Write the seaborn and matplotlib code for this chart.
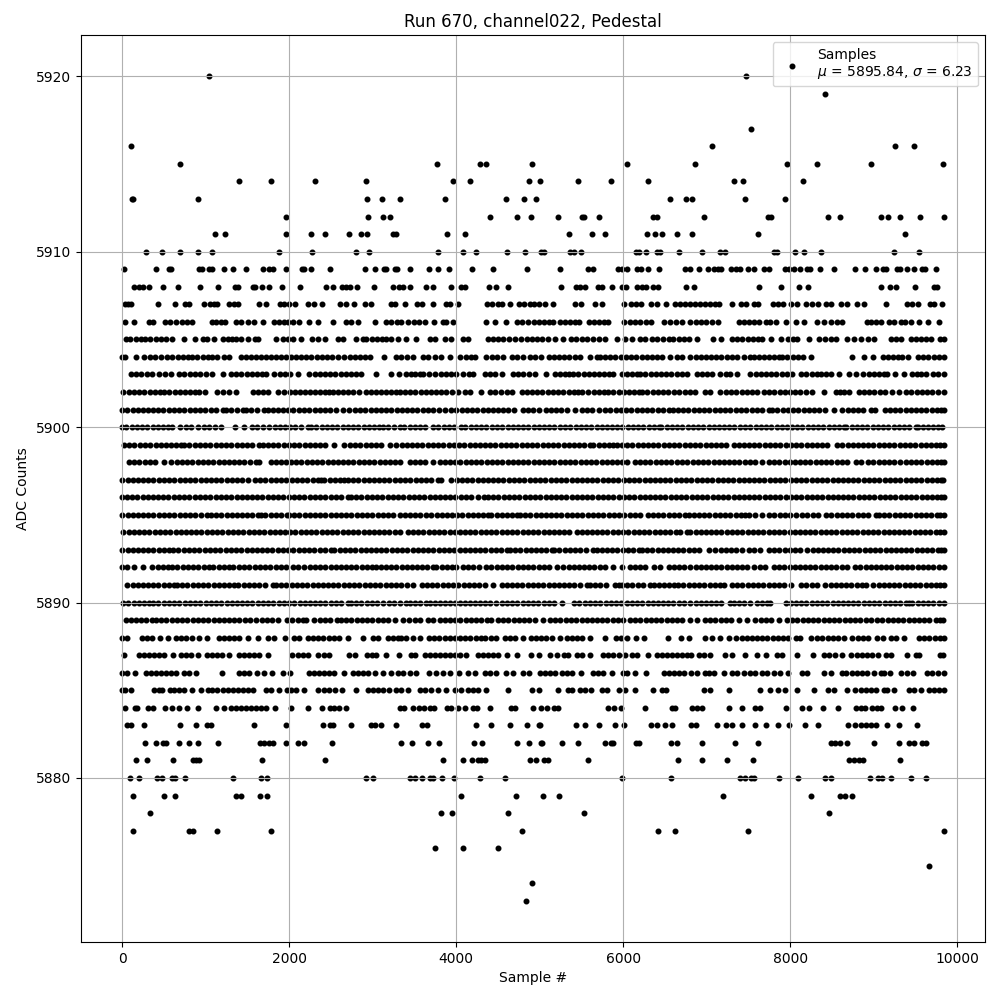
import pandas as pd
import matplotlib
matplotlib.use("Agg")
import matplotlib.pyplot as plt
import seaborn as sns

# sample numbers, one list per ADC level
s5920 = [1042, 7474]
s5919 = [8410]
s5917 = [7534]
s5916 = [106, 7066, 9250, 9478]
s5915 = [694, 3766, 4282, 4354, 4906, 6046, 6862, 7954, 8314, 8962, 9826]
s5914 = [1402, 1786, 2314, 2914, 3958, 4162, 4870, 5002, 5458, 5854, 6298, 7330, 7438, 8146]
s5913 = [124, 136, 910, 2926, 3106, 3322, 3862, 4594, 4810, 4954, 6562, 6754, 6826, 7462, 7930]
s5912 = [1966, 2938, 3118, 3202, 4402, 4726, 4894, 5218, 5506, 5534, 5710, 6358, 6402, 6970, 7738, 7766, 8446, 8590, 9082, 9166, 9310, 9550, 9838]
s5911 = [1114, 1234, 1966, 2266, 2434, 2722, 2854, 2926, 3238, 3278, 3886, 4102, 5350, 5626, 5782, 6286, 6382, 6466, 6646, 6826, 7618, 9370]
s5910 = [286, 478, 694, 910, 1078, 1882, 2278, 2806, 2950, 3778, 4078, 4234, 4606, 4822, 5014, 5054, 5362, 5414, 5494, 6154, 6190, 6274, 6402, 6438, 6666, 6942, 7162, 7222, 7802, 7842, 8050, 8158, 8362, 9238, 9538]
s5909 = [22, 406, 562, 582, 922, 962, 1042, 1074, 1222, 1330, 1478, 1690, 1754, 1810, 1966, 2158, 2182, 2266, 2494, 2902, 3022, 3130, 3162, 3262, 3294, 3442, 3670, 3778, 3918, 4186, 4438, 4850, 5242, 5574, 5638, 5942, 5982, 6042, 6166, 6214, 6298, 6430, 6738, 6794, 6902, 7018, 7090, 7130, 7174, 7294, 7350, 7402, 7498, 7570, 7690, 7742, 7930, 7982, 8042, 8114, 8202, 8234, 8350, 8518, 8770, 8890, 9022, 9110, 9150, 9278, 9318, 9394, 9478, 9574, 9614, 9742]
s5908 = [142, 202, 254, 322, 490, 670, 934, 1150, 1350, 1382, 1562, 1594, 1674, 1762, 1918, 2134, 2446, 2530, 2630, 2682, 2730, 2818, 3010, 3238, 3310, 3362, 3442, 3634, 3718, 3934, 4054, 4102, 4398, 4474, 4618, 5254, 5434, 5482, 5542, 5694, 5742, 5866, 5986, 6038, 6166, 6222, 6270, 6358, 6414, 6754, 6842, 7630, 7882, 8098, 8206, 9082, 9190, 9262, 9490, 9722, 9750]
s5907 = [30, 70, 102, 430, 638, 750, 806, 982, 1054, 1102, 1142, 1282, 1342, 1382, 1642, 1726, 1894, 1942, 2002, 2074, 2230, 2302, 2398, 2614, 2682, 2774, 2902, 2974, 3214, 3262, 3382, 3526, 3590, 3718, 3874, 3930, 4018, 4374, 4430, 4502, 4542, 4642, 4750, 4814, 4882, 4934, 4990, 5062, 5158, 5422, 5490, 5662, 5746, 6014, 6094, 6150, 6214, 6334, 6402, 6514, 6622, 6682, 6742, 6802, 6862, 6922, 6982, 7042, 7102, 7150, 7302, 7406, 7474, 7562, 7614, 7798, 7854, 7910, 8002, 8074, 8182, 8262, 8326, 8422, 8482, 8610, 8682, 8802, 8886, 9142, 9402, 9462, 9522, 9670, 9722, 9814]
s5906 = [34, 142, 322, 374, 514, 574, 642, 722, 782, 842, 1082, 1130, 1190, 1234, 1362, 1422, 1502, 1582, 1682, 1822, 1880, 1940, 1990, 2042, 2118, 2242, 2342, 2530, 2682, 2742, 2830, 3022, 3162, 3225, 3285, 3342, 3422, 3490, 3555, 3622, 3734, 3842, 3882, 3966, 4362, 4462, 4590, 4722, 4782, 4862, 4925, 4985, 5050, 5105, 5162, 5242, 5300, 5365, 5422, 5470, 5590, 5650, 5710, 5770, 5822, 6014, 6075, 6142, 6202, 6268, 6334, 6482, 6562, 6630, 6702, 6802, 6868, 6930, 6995, 7062, 7138, 7382, 7445, 7505, 7565, 7622, 7714, 7762, 7822, 7950, 8062, 8162, 8322, 8400, 8482, 8562, 8622, 8914, 8970, 9030, 9082, 9182, 9242, 9322, 9374, 9442, 9542, 9642, 9778]
s5905 = [42, 100, 162, 222, 280, 340, 402, 460, 525, 602, 742, 874, 970, 1022, 1102, 1202, 1262, 1310, 1362, 1422, 1510, 1590, 1630, 1842, 1922, 1985, 2042, 2142, 2270, 2342, 2430, 2590, 2642, 2806, 2882, 2922, 2990, 3050, 3110, 3165, 3222, 3302, 3402, 3514, 3682, 3742, 3862, 3942, 4082, 4142, 4382, 4440, 4505, 4565, 4630, 4702, 4770, 4842, 4905, 4965, 5022, 5102, 5182, 5278, 5374, 5435, 5500, 5562, 5642, 5710, 5782, 5922, 6022, 6102, 6202, 6262, 6342, 6402, 6478, 6542, 6600, 6662, 6722, 6782, 6882, 7074, 7166, 7302, 7365, 7425, 7490, 7550, 7610, 7662, 7774, 7882, 7974, 8030, 8082, 8218, 8342, 8410, 8482, 8550, 8682, 8762, 8842, 8925, 9002, 9202, 9262, 9322, 9442, 9505, 9565, 9622, 9682, 9790, 9835]
s5904 = [0, 30, 162, 262, 330, 395, 462, 542, 602, 665, 725, 785, 842, 902, 965, 1025, 1082, 1142, 1215, 1282, 1422, 1482, 1545, 1605, 1665, 1725, 1785, 1840, 1905, 1962, 2022, 2085, 2145, 2205, 2265, 2330, 2390, 2450, 2515, 2582, 2662, 2725, 2785, 2850, 2905, 2962, 3138, 3282, 3340, 3410, 3482, 3602, 3662, 3742, 3822, 3922, 4042, 4122, 4175, 4222, 4362, 4425, 4490, 4562, 4662, 4725, 4802, 4882, 4945, 5010, 5110, 5170, 5235, 5295, 5355, 5420, 5480, 5600, 5682, 5722, 5785, 5845, 5905, 5970, 6030, 6095, 6155, 6220, 6285, 6345, 6405, 6462, 6562, 6642, 6706, 6802, 6865, 6925, 6985, 7050, 7115, 7175, 7240, 7300, 7365, 7442, 7514, 7562, 7625, 7690, 7745, 7805, 7862, 7902, 7965, 8030, 8090, 8150, 8242, 8742, 8886, 8994, 9110, 9170, 9230, 9290, 9342, 9414, 9522, 9585, 9650, 9722, 9775, 9835]
s5903 = [102, 165, 230, 295, 362, 442, 510, 582, 682, 745, 810, 870, 935, 1002, 1082, 1210, 1302, 1365, 1425, 1490, 1555, 1615, 1670, 1722, 1822, 1885, 1950, 2010, 2102, 2242, 2305, 2365, 2430, 2490, 2550, 2615, 2680, 2745, 2800, 2862, 3042, 3222, 3310, 3394, 3462, 3510, 3562, 3602, 3675, 3742, 3822, 3880, 3942, 4002, 4082, 4150, 4202, 4350, 4405, 4462, 4550, 4682, 4745, 4805, 4875, 4942, 5070, 5182, 5245, 5300, 5355, 5402, 5462, 5530, 5590, 5650, 5710, 5770, 5825, 5882, 5982, 6045, 6110, 6162, 6202, 6265, 6330, 6390, 6450, 6515, 6575, 6640, 6702, 6762, 6882, 6945, 7000, 7062, 7162, 7225, 7282, 7366, 7522, 7585, 7645, 7710, 7770, 7830, 7895, 7960, 8022, 8122, 8190, 8260, 8322, 8362, 8425, 8490, 8582, 8702, 8782, 8866, 8942, 9000, 9060, 9115, 9162, 9250, 9362, 9454, 9510, 9565, 9622, 9702, 9770, 9835]
s5902 = [14, 82, 145, 205, 265, 330, 395, 454, 502, 565, 630, 690, 750, 815, 870, 922, 994, 1142, 1205, 1282, 1362, 1562, 1625, 1690, 1742, 1862, 1942, 2005, 2065, 2125, 2190, 2250, 2310, 2370, 2430, 2482, 2522, 2585, 2650, 2710, 2770, 2835, 2922, 2974, 3035, 3095, 3155, 3215, 3275, 3322, 3385, 3445, 3510, 3575, 3635, 3695, 3760, 3820, 3880, 3945, 4022, 4102, 4162, 4302, 4402, 4465, 4530, 4602, 4662, 4782, 4845, 4905, 4970, 5030, 5095, 5155, 5220, 5280, 5345, 5405, 5462, 5510, 5582, 5645, 5705, 5765, 5822, 5882, 5945, 6010, 6070, 6130, 6182, 6222, 6285, 6350, 6415, 6475, 6540, 6602, 6662, 6742, 6800, 6862, 6982, 7042, 7162, 7225, 7290, 7350, 7415, 7475, 7540, 7602, 7682, 7745, 7810, 7870, 7935, 7995, 8060, 8120, 8185, 8262, 8402, 8542, 8600, 8642, 8702, 8822, 8880, 8945, 9005, 9070, 9135, 9222, 9302, 9382, 9445, 9510, 9570, 9635, 9700, 9762, 9835]
s5901 = [2, 62, 125, 185, 250, 310, 370, 435, 495, 560, 620, 680, 745, 810, 870, 930, 995, 1060, 1120, 1202, 1242, 1305, 1370, 1442, 1482, 1545, 1610, 1702, 1742, 1805, 1865, 1930, 1990, 2050, 2115, 2180, 2240, 2305, 2365, 2430, 2490, 2555, 2642, 2722, 2785, 2850, 2910, 2975, 3035, 3100, 3160, 3225, 3285, 3350, 3410, 3475, 3535, 3600, 3660, 3725, 3790, 3862, 3934, 4002, 4065, 4125, 4190, 4250, 4315, 4375, 4440, 4500, 4565, 4625, 4690, 4794, 4854, 4922, 4985, 5070, 5135, 5200, 5260, 5325, 5422, 5502, 5565, 5622, 5710, 5782, 5845, 5910, 5970, 6035, 6095, 6160, 6220, 6285, 6345, 6410, 6475, 6542, 6590, 6655, 6720, 6780, 6845, 6905, 6970, 7030, 7095, 7155, 7220, 7280, 7345, 7405, 7470, 7535, 7600, 7660, 7742, 7782, 7845, 7910, 7970, 8035, 8095, 8160, 8220, 8285, 8345, 8410, 8522, 8622, 8685, 8750, 8810, 8875, 8962, 9010, 9130, 9190, 9255, 9315, 9380, 9442, 9502, 9562, 9625, 9690, 9750, 9800, 9835]
s5900 = [0, 50, 115, 175, 240, 300, 365, 425, 490, 550, 602, 694, 762, 825, 910, 982, 1045, 1110, 1190, 1350, 1462, 1550, 1615, 1682, 1762, 1825, 1890, 1950, 2015, 2075, 2140, 2222, 2262, 2325, 2390, 2450, 2515, 2575, 2640, 2700, 2765, 2825, 2890, 2950, 3015, 3075, 3122, 3182, 3250, 3322, 3380, 3445, 3505, 3570, 3622, 3722, 3785, 3850, 3910, 3975, 4062, 4110, 4175, 4235, 4300, 4360, 4425, 4490, 4550, 4615, 4675, 4740, 4800, 4865, 4925, 4990, 5050, 5115, 5175, 5240, 5300, 5365, 5430, 5490, 5555, 5615, 5680, 5740, 5805, 5865, 5930, 5990, 6055, 6115, 6180, 6240, 6305, 6365, 6422, 6454, 6520, 6580, 6645, 6705, 6770, 6830, 6895, 6955, 7020, 7080, 7145, 7205, 7270, 7330, 7395, 7455, 7520, 7585, 7645, 7710, 7770, 7835, 7895, 7960, 8020, 8085, 8145, 8210, 8270, 8335, 8395, 8460, 8520, 8585, 8642, 8670, 8735, 8795, 8860, 8920, 8985, 9045, 9110, 9170, 9235, 9295, 9360, 9420, 9502, 9522, 9585, 9645, 9710, 9770, 9820]
s5899 = [22, 85, 145, 210, 270, 335, 400, 460, 525, 585, 650, 702, 742, 805, 870, 930, 995, 1055, 1120, 1180, 1245, 1305, 1370, 1430, 1495, 1555, 1642, 1682, 1745, 1810, 1870, 1935, 1995, 2060, 2120, 2185, 2245, 2310, 2370, 2435, 2542, 2662, 2725, 2790, 2850, 2915, 2975, 3040, 3100, 3202, 3282, 3345, 3405, 3470, 3530, 3595, 3660, 3720, 3785, 3845, 3910, 3970, 4035, 4095, 4160, 4220, 4285, 4345, 4410, 4470, 4535, 4595, 4660, 4720, 4785, 4845, 4910, 4970, 5035, 5095, 5160, 5220, 5285, 5345, 5410, 5470, 5535, 5602, 5642, 5705, 5770, 5830, 5882, 5922, 5985, 6045, 6110, 6170, 6235, 6295, 6360, 6420, 6485, 6545, 6610, 6670, 6735, 6795, 6860, 6920, 6985, 7045, 7110, 7170, 7235, 7322, 7382, 7445, 7505, 7570, 7630, 7695, 7755, 7820, 7880, 7945, 8005, 8070, 8130, 8195, 8255, 8320, 8382, 8434, 8562, 8622, 8685, 8745, 8810, 8870, 8935, 8995, 9060, 9120, 9185, 9245, 9310, 9370, 9435, 9495, 9560, 9620, 9685, 9745, 9790, 9835]
s5898 = [82, 145, 205, 270, 330, 395, 502, 590, 655, 715, 780, 840, 905, 965, 1030, 1090, 1155, 1215, 1280, 1340, 1405, 1465, 1530, 1602, 1642, 1782, 1845, 1905, 1962, 2022, 2085, 2145, 2210, 2270, 2335, 2395, 2460, 2520, 2585, 2645, 2710, 2770, 2835, 2895, 2960, 3020, 3085, 3145, 3210, 3270, 3322, 3442, 3505, 3570, 3630, 3722, 3802, 3865, 3925, 3990, 4050, 4115, 4175, 4240, 4300, 4365, 4425, 4490, 4550, 4615, 4675, 4740, 4800, 4865, 4925, 4990, 5050, 5115, 5175, 5240, 5300, 5365, 5425, 5490, 5550, 5615, 5675, 5740, 5800, 5865, 5925, 5990, 6050, 6142, 6202, 6265, 6325, 6390, 6450, 6515, 6575, 6640, 6700, 6765, 6830, 6890, 6955, 7015, 7080, 7140, 7205, 7265, 7330, 7390, 7455, 7515, 7580, 7662, 7742, 7805, 7865, 7930, 7990, 8055, 8115, 8180, 8240, 8305, 8365, 8430, 8490, 8555, 8615, 8680, 8782, 8850, 8934, 8995, 9060, 9120, 9185, 9245, 9310, 9382, 9442, 9505, 9565, 9630, 9690, 9755, 9800, 9836]
s5897 = [2, 65, 125, 190, 250, 315, 375, 440, 500, 565, 625, 690, 750, 815, 875, 940, 1000, 1065, 1125, 1190, 1250, 1315, 1375, 1440, 1502, 1590, 1655, 1715, 1780, 1840, 1905, 1965, 2030, 2090, 2155, 2215, 2280, 2340, 2382, 2422, 2485, 2545, 2610, 2662, 2702, 2765, 2825, 2890, 2950, 3015, 3075, 3140, 3200, 3265, 3325, 3390, 3450, 3515, 3575, 3640, 3702, 3782, 3822, 3942, 4005, 4065, 4130, 4190, 4255, 4315, 4380, 4440, 4505, 4565, 4630, 4690, 4755, 4815, 4880, 4940, 5005, 5065, 5130, 5190, 5255, 5315, 5380, 5440, 5505, 5565, 5630, 5690, 5755, 5815, 5880, 5940, 6005, 6065, 6130, 6190, 6255, 6315, 6380, 6440, 6505, 6565, 6630, 6690, 6755, 6815, 6880, 6940, 7005, 7065, 7130, 7190, 7255, 7315, 7380, 7440, 7505, 7565, 7630, 7690, 7755, 7815, 7880, 7940, 8005, 8065, 8130, 8190, 8255, 8315, 8380, 8440, 8505, 8565, 8630, 8690, 8755, 8815, 8880, 8940, 9005, 9065, 9130, 9190, 9255, 9315, 9380, 9440, 9505, 9565, 9630, 9690, 9755, 9800, 9832]
s5896 = [2, 60, 122, 182, 245, 305, 370, 430, 495, 555, 620, 680, 745, 805, 870, 930, 995, 1055, 1120, 1180, 1245, 1305, 1370, 1430, 1495, 1555, 1620, 1680, 1745, 1805, 1870, 1930, 1995, 2055, 2120, 2180, 2245, 2305, 2370, 2430, 2495, 2555, 2620, 2702, 2742, 2805, 2865, 2930, 2990, 3055, 3115, 3180, 3240, 3305, 3365, 3430, 3490, 3555, 3615, 3680, 3740, 3805, 3865, 3930, 3990, 4055, 4115, 4180, 4262, 4330, 4382, 4445, 4505, 4570, 4630, 4695, 4755, 4820, 4880, 4945, 5005, 5070, 5130, 5195, 5255, 5320, 5380, 5445, 5505, 5570, 5630, 5695, 5755, 5820, 5880, 5945, 6005, 6070, 6130, 6195, 6255, 6320, 6380, 6445, 6505, 6570, 6630, 6695, 6755, 6820, 6880, 6945, 7005, 7070, 7130, 7195, 7255, 7320, 7380, 7445, 7505, 7570, 7630, 7695, 7755, 7820, 7880, 7945, 8005, 8070, 8130, 8195, 8255, 8320, 8380, 8445, 8505, 8570, 8630, 8695, 8755, 8820, 8880, 8945, 9005, 9070, 9130, 9195, 9255, 9320, 9380, 9445, 9505, 9570, 9630, 9695, 9755, 9800, 9838]
s5895 = [2, 65, 125, 190, 250, 315, 375, 440, 500, 565, 625, 690, 750, 815, 875, 940, 1022, 1062, 1125, 1185, 1250, 1310, 1375, 1435, 1500, 1560, 1625, 1662, 1710, 1782, 1845, 1905, 1970, 2002, 2054, 2122, 2185, 2245, 2310, 2370, 2435, 2495, 2560, 2620, 2685, 2745, 2810, 2870, 2935, 2995, 3060, 3120, 3185, 3245, 3322, 3385, 3445, 3510, 3570, 3642, 3702, 3765, 3825, 3890, 3950, 4015, 4075, 4140, 4200, 4265, 4325, 4382, 4422, 4485, 4545, 4610, 4670, 4722, 4762, 4825, 4885, 4950, 5010, 5075, 5135, 5200, 5260, 5325, 5385, 5450, 5510, 5575, 5635, 5700, 5760, 5825, 5885, 5950, 6010, 6075, 6135, 6202, 6294, 6355, 6420, 6480, 6545, 6605, 6670, 6742, 6782, 6845, 6905, 6970, 7030, 7095, 7155, 7220, 7280, 7345, 7405, 7462, 7510, 7575, 7662, 7750, 7810, 7875, 7935, 8000, 8062, 8142, 8205, 8265, 8330, 8422, 8490, 8555, 8615, 8680, 8740, 8805, 8865, 8930, 9022, 9062, 9125, 9185, 9250, 9310, 9375, 9435, 9500, 9560, 9625, 9685, 9750, 9795, 9836]
s5894 = [14, 82, 142, 202, 265, 325, 390, 450, 515, 575, 640, 700, 765, 825, 890, 950, 1015, 1075, 1140, 1200, 1265, 1325, 1390, 1450, 1515, 1575, 1640, 1700, 1765, 1825, 1890, 1950, 2015, 2075, 2140, 2200, 2265, 2325, 2390, 2450, 2515, 2575, 2640, 2700, 2765, 2825, 2890, 2950, 3015, 3075, 3140, 3200, 3265, 3322, 3422, 3482, 3545, 3605, 3670, 3730, 3795, 3855, 3920, 3980, 4045, 4105, 4170, 4230, 4295, 4355, 4420, 4480, 4545, 4605, 4670, 4730, 4795, 4855, 4920, 4980, 5045, 5105, 5170, 5230, 5295, 5355, 5442, 5502, 5562, 5625, 5685, 5750, 5810, 5875, 5935, 6000, 6060, 6125, 6185, 6250, 6310, 6375, 6435, 6500, 6560, 6625, 6682, 6762, 6802, 6865, 6925, 6990, 7050, 7115, 7175, 7240, 7300, 7365, 7425, 7490, 7550, 7615, 7675, 7740, 7800, 7865, 7925, 7990, 8050, 8115, 8175, 8240, 8300, 8365, 8425, 8490, 8550, 8615, 8675, 8740, 8800, 8865, 8925, 8990, 9050, 9115, 9175, 9240, 9300, 9365, 9425, 9490, 9550, 9615, 9675, 9740, 9790, 9836]
s5893 = [2, 65, 125, 190, 250, 315, 375, 440, 500, 562, 614, 675, 740, 800, 865, 925, 990, 1050, 1115, 1175, 1240, 1300, 1365, 1425, 1490, 1550, 1615, 1675, 1740, 1800, 1865, 1925, 1990, 2050, 2115, 2175, 2240, 2300, 2365, 2425, 2502, 2542, 2605, 2665, 2730, 2790, 2855, 2915, 2980, 3040, 3105, 3165, 3230, 3290, 3355, 3415, 3480, 3540, 3602, 3665, 3725, 3790, 3850, 3915, 3975, 4040, 4100, 4165, 4225, 4290, 4350, 4415, 4475, 4540, 4602, 4642, 4705, 4765, 4830, 4890, 4955, 5015, 5080, 5142, 5174, 5235, 5300, 5360, 5425, 5485, 5550, 5642, 5682, 5745, 5805, 5870, 5930, 5995, 6055, 6120, 6182, 6222, 6285, 6345, 6410, 6470, 6535, 6595, 6660, 6720, 6785, 6845, 6910, 7022, 7102, 7165, 7225, 7290, 7350, 7415, 7502, 7562, 7642, 7742, 7805, 7865, 7930, 7990, 8055, 8115, 8202, 8265, 8325, 8390, 8450, 8515, 8575, 8640, 8700, 8765, 8825, 8890, 8950, 9015, 9075, 9140, 9200, 9265, 9325, 9390, 9450, 9515, 9575, 9640, 9700, 9765, 9800, 9836]
s5892 = [0, 62, 142, 254, 362, 425, 490, 550, 602, 662, 725, 785, 850, 910, 975, 1042, 1094, 1155, 1220, 1280, 1322, 1402, 1465, 1525, 1590, 1650, 1715, 1775, 1840, 1900, 1965, 2042, 2110, 2182, 2245, 2305, 2370, 2430, 2495, 2555, 2620, 2680, 2745, 2805, 2870, 2930, 2995, 3042, 3094, 3155, 3220, 3280, 3345, 3405, 3470, 3530, 3595, 3655, 3722, 3762, 3825, 3885, 3950, 4002, 4082, 4145, 4205, 4270, 4362, 4422, 4485, 4545, 4610, 4670, 4735, 4795, 4860, 4920, 4985, 5045, 5110, 5210, 5282, 5345, 5405, 5470, 5530, 5595, 5655, 5720, 5780, 5882, 5982, 6082, 6142, 6202, 6265, 6362, 6442, 6542, 6605, 6665, 6730, 6802, 6865, 6925, 6990, 7050, 7115, 7175, 7240, 7300, 7365, 7425, 7482, 7562, 7640, 7702, 7802, 7865, 7925, 7990, 8050, 8115, 8175, 8240, 8300, 8365, 8425, 8490, 8550, 8615, 8682, 8774, 8835, 8900, 8960, 9025, 9085, 9150, 9210, 9275, 9335, 9400, 9460, 9525, 9585, 9650, 9710, 9775, 9836]
s5891 = [62, 125, 185, 250, 310, 375, 435, 500, 560, 625, 662, 722, 782, 845, 905, 970, 1030, 1095, 1155, 1220, 1280, 1342, 1390, 1455, 1515, 1580, 1640, 1705, 1802, 1842, 1905, 1965, 2030, 2090, 2155, 2215, 2280, 2340, 2405, 2465, 2530, 2590, 2655, 2715, 2780, 2840, 2905, 2965, 3030, 3090, 3155, 3215, 3282, 3342, 3410, 3482, 3590, 3650, 3715, 3775, 3840, 3900, 3965, 4025, 4090, 4150, 4215, 4275, 4340, 4442, 4542, 4605, 4665, 4730, 4790, 4855, 4915, 4980, 5040, 5105, 5165, 5230, 5290, 5355, 5415, 5480, 5562, 5602, 5665, 5725, 5790, 5902, 5950, 5982, 6045, 6105, 6170, 6230, 6322, 6362, 6425, 6485, 6550, 6602, 6654, 6715, 6782, 6842, 6905, 6970, 7042, 7094, 7155, 7202, 7302, 7365, 7425, 7490, 7550, 7615, 7675, 7740, 7800, 7865, 7925, 8002, 8122, 8190, 8262, 8322, 8414, 8482, 8545, 8605, 8670, 8730, 8795, 8855, 8902, 8994, 9055, 9120, 9180, 9245, 9305, 9370, 9430, 9495, 9555, 9620, 9680, 9745, 9795, 9836]
s5890 = [14, 75, 140, 200, 265, 322, 374, 435, 500, 560, 625, 685, 750, 810, 875, 935, 1000, 1060, 1125, 1185, 1250, 1310, 1375, 1435, 1500, 1560, 1625, 1685, 1750, 1810, 1875, 1935, 2000, 2060, 2125, 2185, 2250, 2310, 2375, 2435, 2500, 2560, 2625, 2702, 2742, 2805, 2865, 2930, 2990, 3055, 3122, 3190, 3255, 3322, 3402, 3442, 3505, 3565, 3642, 3682, 3745, 3802, 3862, 3925, 3985, 4050, 4110, 4162, 4222, 4285, 4345, 4402, 4482, 4545, 4605, 4670, 4730, 4795, 4855, 4920, 4980, 5045, 5105, 5170, 5262, 5414, 5475, 5542, 5602, 5665, 5725, 5790, 5850, 5915, 5975, 6040, 6100, 6165, 6225, 6290, 6350, 6415, 6475, 6540, 6600, 6665, 6725, 6802, 6865, 6925, 6990, 7050, 7115, 7175, 7282, 7322, 7385, 7445, 7522, 7602, 7665, 7725, 7762, 7942, 8005, 8065, 8130, 8190, 8255, 8315, 8380, 8440, 8505, 8565, 8630, 8690, 8755, 8815, 8880, 8940, 9005, 9065, 9130, 9190, 9255, 9315, 9380, 9422, 9462, 9525, 9585, 9650, 9710, 9775, 9836]
s5889 = [42, 105, 165, 230, 290, 355, 402, 470, 530, 595, 655, 720, 780, 845, 905, 970, 1030, 1095, 1155, 1220, 1280, 1345, 1405, 1470, 1530, 1602, 1670, 1735, 1795, 1862, 1974, 2035, 2100, 2160, 2202, 2302, 2365, 2425, 2490, 2574, 2622, 2685, 2745, 2810, 2870, 2935, 2995, 3060, 3120, 3185, 3262, 3362, 3430, 3502, 3562, 3662, 3722, 3802, 3865, 3925, 3990, 4050, 4115, 4175, 4240, 4300, 4365, 4422, 4502, 4565, 4625, 4690, 4750, 4815, 4875, 4940, 5042, 5122, 5185, 5245, 5310, 5370, 5435, 5502, 5562, 5625, 5685, 5750, 5810, 5875, 5935, 6002, 6082, 6145, 6205, 6270, 6330, 6395, 6455, 6522, 6582, 6645, 6705, 6802, 6882, 6974, 7042, 7102, 7165, 7225, 7290, 7382, 7482, 7582, 7645, 7705, 7770, 7862, 7962, 8025, 8085, 8150, 8210, 8275, 8335, 8400, 8460, 8525, 8585, 8650, 8710, 8775, 8835, 8900, 8960, 9042, 9102, 9165, 9225, 9290, 9350, 9415, 9475, 9540, 9600, 9665, 9742, 9790, 9830]
s5888 = [0, 54, 242, 302, 362, 454, 554, 642, 702, 762, 842, 922, 1022, 1162, 1222, 1282, 1342, 1402, 1502, 1622, 1742, 1814, 1950, 2062, 2122, 2222, 2282, 2342, 2402, 2482, 2542, 2602, 2702, 2882, 3002, 3062, 3182, 3242, 3302, 3342, 3402, 3482, 3562, 3670, 3735, 3795, 3860, 3920, 3985, 4045, 4110, 4170, 4235, 4295, 4342, 4422, 4482, 4582, 4645, 4705, 4802, 4894, 4955, 5020, 5080, 5145, 5242, 5322, 5385, 5445, 5510, 5602, 5782, 5910, 5975, 6042, 6154, 6250, 6534, 6694, 6790, 6982, 7062, 7162, 7262, 7350, 7415, 7475, 7540, 7600, 7665, 7725, 7790, 7850, 7915, 7975, 8062, 8110, 8242, 8322, 8382, 8445, 8505, 8570, 8642, 8742, 8805, 8865, 8930, 9042, 9110, 9202, 9265, 9362, 9542, 9605, 9665, 9730, 9790, 9836]
s5887 = [22, 202, 262, 322, 382, 442, 502, 614, 702, 762, 822, 914, 1014, 1074, 1134, 1194, 1282, 1402, 1462, 1522, 1582, 1642, 1742, 2030, 2102, 2162, 2230, 2350, 2422, 2482, 2722, 2790, 2930, 2990, 3042, 3162, 3314, 3454, 3502, 3622, 3682, 3742, 3802, 3862, 3922, 3982, 4042, 4122, 4262, 4322, 4382, 4442, 4502, 4602, 4730, 4894, 4990, 5122, 5206, 5290, 5342, 5446, 5510, 5602, 5762, 5822, 5882, 5950, 6022, 6102, 6166, 6298, 6402, 6462, 6522, 6582, 6642, 6702, 6762, 6814, 6902, 6962, 7042, 7222, 7302, 7462, 7602, 7710, 7842, 7902, 8074, 8266, 8402, 8462, 8534, 8622, 8722, 8802, 8862, 8922, 8982, 9050, 9142, 9210, 9394, 9502, 9542, 9790, 9830]
s5886 = [2, 62, 154, 282, 342, 402, 462, 522, 582, 642, 742, 802, 882, 1198, 1402, 1462, 1522, 1614, 1702, 1794, 1922, 2014, 2242, 2302, 2362, 2422, 2482, 2542, 2662, 2762, 2822, 2882, 2942, 3022, 3122, 3222, 3302, 3362, 3442, 3522, 3674, 3762, 3842, 3922, 4038, 4146, 4230, 4342, 4402, 4482, 4594, 4678, 4802, 4870, 5002, 5062, 5122, 5182, 5262, 5322, 5382, 5490, 5642, 5702, 5762, 5862, 5994, 6042, 6142, 6274, 6482, 6542, 6602, 6662, 6722, 6814, 6886, 6974, 7022, 7090, 7210, 7302, 7362, 7442, 7522, 7582, 7662, 7722, 7802, 7874, 7966, 8142, 8202, 8402, 8482, 8614, 8670, 8742, 8802, 8862, 8922, 9002, 9082, 9122, 9190, 9322, 9394, 9470, 9630, 9694, 9766, 9836]
s5885 = [0, 40, 102, 382, 442, 482, 570, 622, 682, 742, 842, 950, 1030, 1082, 1142, 1202, 1262, 1322, 1382, 1442, 1502, 1562, 1722, 1782, 1874, 1974, 2022, 2082, 2174, 2350, 2422, 2482, 2550, 2638, 2806, 2942, 3002, 3062, 3122, 3190, 3282, 3342, 3422, 3562, 3622, 3702, 3782, 3874, 3982, 4054, 4142, 4202, 4262, 4362, 4618, 4902, 4990, 5218, 5334, 5390, 5482, 5542, 5614, 5742, 5806, 5950, 6022, 6142, 6358, 6462, 6510, 6962, 7042, 7262, 7642, 7762, 7854, 7930, 8074, 8286, 8450, 8522, 8674, 8774, 8842, 8902, 8962, 9022, 9122, 9162, 9242, 9422, 9482, 9562, 9662, 9722, 9782, 9836]
s5884 = [34, 150, 175, 310, 370, 514, 598, 682, 778, 914, 1126, 1222, 1302, 1362, 1422, 1482, 1542, 1602, 1662, 1722, 1834, 2026, 2222, 2398, 2494, 2542, 2602, 2686, 3322, 3370, 3478, 3550, 3610, 3682, 3730, 3886, 3942, 4018, 4102, 4198, 4254, 4402, 4654, 4702, 4918, 5014, 5082, 5174, 5214, 5818, 5890, 5974, 6262, 6582, 6622, 6826, 6878, 6946, 7270, 7426, 7582, 7642, 7942, 8134, 8218, 8386, 8574, 8782, 8842, 8894, 8974, 9042, 9090, 9250, 9334, 9466]
s5883 = [54, 110, 262, 694, 886, 1014, 1062, 1582, 1966, 2410, 2494, 2522, 2746, 2974, 3022, 3094, 3274, 3586, 3646, 4234, 4414, 4642, 4846, 4990, 5002, 5434, 5542, 5710, 5902, 6010, 6334, 6406, 6502, 6586, 6810, 6866, 7126, 7234, 7306, 7426, 7582, 7714, 7846, 7978, 8170, 8326, 8686, 8770, 8842, 8902, 8962, 9022, 9154, 9302, 9514]
s5882 = [274, 406, 490, 530, 682, 802, 910, 1150, 1654, 1702, 1762, 1810, 1966, 2110, 2182, 2518, 3334, 3466, 3658, 3790, 4210, 4306, 4726, 4870, 5014, 5026, 5266, 5458, 5782, 5854, 5882, 6154, 6190, 6574, 6646, 6946, 7342, 7618, 8482, 8534, 8590, 8674, 8998, 9298, 9418, 9478, 9574, 9622]
s5881 = [170, 298, 610, 850, 890, 926, 1678, 2434, 3838, 4078, 4186, 4258, 4302, 4342, 4882, 4950, 5054, 5102, 5578, 6658, 6946, 7246, 7558, 8698, 8758, 8818, 8866, 9310]
s5880 = [94, 198, 414, 478, 598, 638, 750, 1330, 1666, 1738, 2914, 2998, 3442, 3502, 3586, 3682, 3722, 3826, 3970, 4282, 4582, 5986, 6574, 7402, 7462, 7534, 7570, 7858, 8086, 8410, 8490, 8950, 9046, 9102, 9202, 9442, 9622]
s5879 = [130, 502, 634, 1366, 1422, 1654, 1738, 4054, 4714, 5038, 5230, 7198, 8242, 8590, 8650, 8734]
s5878 = [334, 3814, 3946, 4618, 5530, 8458]
s5877 = [130, 806, 854, 1138, 1786, 4786, 6418, 6622, 7498, 9838]
s5876 = [3742, 4078, 4498]
s5875 = [9658]
s5874 = [4906]
s5873 = [4830]

levels = [5920, 5919, 5917, 5916, 5915, 5914, 5913, 5912, 5911, 5910, 5909, 5908, 5907, 5906, 5905,
          5904, 5903, 5902, 5901, 5900, 5899, 5898, 5897, 5896, 5895, 5894, 5893, 5892, 5891, 5890,
          5889, 5888, 5887, 5886, 5885, 5884, 5883, 5882, 5881, 5880, 5879, 5878, 5877, 5876, 5875,
          5874, 5873]
samples = [s5920, s5919, s5917, s5916, s5915, s5914, s5913, s5912, s5911, s5910, s5909, s5908, s5907, s5906, s5905,
           s5904, s5903, s5902, s5901, s5900, s5899, s5898, s5897, s5896, s5895, s5894, s5893, s5892, s5891, s5890,
           s5889, s5888, s5887, s5886, s5885, s5884, s5883, s5882, s5881, s5880, s5879, s5878, s5877, s5876, s5875,
           s5874, s5873]

df = pd.DataFrame({
    "sample": [x for row in samples for x in row],
    "adc": [lv for lv, row in zip(levels, samples) for _ in row],
})

fig, ax = plt.subplots(figsize=(10, 10), dpi=100)
sns.scatterplot(data=df, x="sample", y="adc", marker=".", color="k", edgecolor="k",
                linewidth=1.3, s=36, ax=ax,
                label="Samples\n$\\mu$ = 5895.84, $\\sigma$ = 6.23")
ax.set_xlabel("Sample #")
ax.set_ylabel("ADC Counts")
ax.set_title("Run 670, channel022, Pedestal")
ax.set_yticks([5880, 5890, 5900, 5910, 5920])
ax.get_yaxis().get_major_formatter().set_useOffset(False)
ax.grid(True)
ax.legend(loc="upper right")
fig.subplots_adjust(left=0.081, right=0.985, top=0.965, bottom=0.058)
fig.savefig("out.png")
